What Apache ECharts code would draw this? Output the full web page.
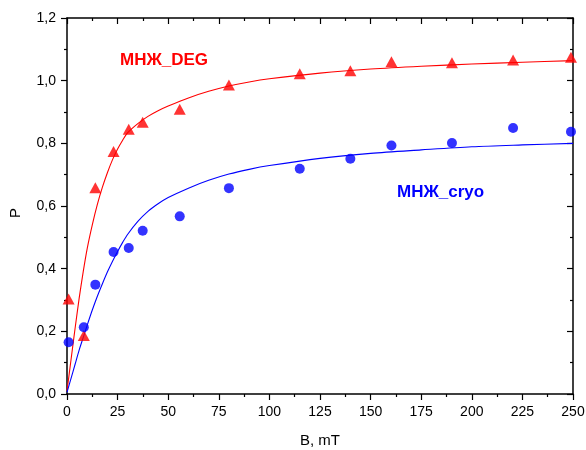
<!DOCTYPE html>
<html>
<head>
<meta charset="utf-8">
<script src="https://cdn.jsdelivr.net/npm/echarts@6/dist/echarts.min.js"></script>
<style>html,body{margin:0;padding:0;background:#fff}#c{width:586px;height:450px}</style>
</head>
<body>
<div id="c"></div>
<script>
// measured points
var bPoints = [0.8, 8.3, 14, 23, 30.5, 37.4, 55.7, 80, 115, 140, 160.3, 190.2, 220.4, 249];
var degValues = [0.303, 0.187, 0.658, 0.774, 0.845, 0.867, 0.909, 0.986, 1.022, 1.032, 1.06, 1.057, 1.066, 1.075];
var cryoValues = [0.165, 0.213, 0.349, 0.453, 0.466, 0.521, 0.567, 0.657, 0.719, 0.751, 0.793, 0.801, 0.849, 0.837];
// fitted curves
var fitB = [0, 2, 4, 6, 8, 10, 12.5, 15, 17.5, 20, 22.5, 25, 27.5, 30, 35, 40, 45, 50, 60, 70, 80, 90, 100, 125, 150, 175, 200, 225, 250];
var degFit = [0.01, 0.11, 0.21, 0.305, 0.39, 0.465, 0.54, 0.605, 0.66, 0.707, 0.748, 0.782, 0.81, 0.834, 0.863, 0.886, 0.904, 0.919, 0.945, 0.966, 0.983, 0.996, 1.006, 1.024, 1.037, 1.046, 1.053, 1.059, 1.064];
var cryoFit = [0.005, 0.05, 0.095, 0.14, 0.18, 0.22, 0.268, 0.312, 0.352, 0.39, 0.424, 0.455, 0.484, 0.51, 0.551, 0.583, 0.607, 0.627, 0.657, 0.682, 0.702, 0.717, 0.729, 0.752, 0.768, 0.779, 0.789, 0.795, 0.8];
var xTicks = [0, 25, 50, 75, 100, 125, 150, 175, 200, 225, 250];
var yTicks = ['0,0', '0,2', '0,4', '0,6', '0,8', '1,0', '1,2'];

function zip(a, b) { return a.map(function (v, i) { return [v, b[i]]; }); }

var chart = echarts.init(document.getElementById('c'));
var font = 'Liberation Sans, Arial, sans-serif';
var axisLine = { show: true, onZero: false, lineStyle: { color: '#000', width: 1.5 } };
chart.setOption({
  animation: false,
  grid: { left: 67, right: 13, top: 18, bottom: 56, containLabel: false, outerBoundsMode: 'none' },
  xAxis: [{
    type: 'value', min: 0, max: 250, interval: 25, position: 'bottom',
    name: 'B, mT', nameLocation: 'middle', nameGap: 39,
    nameTextStyle: { fontFamily: font, fontSize: 15, color: '#000' },
    axisLine: axisLine,
    axisTick: { show: true, inside: false, length: 6, lineStyle: { color: '#000', width: 1.2 } },
    minorTick: { show: true, splitNumber: 2, length: 3, lineStyle: { color: '#000', width: 1.2 } },
    axisLabel: { fontFamily: font, fontSize: 14, color: '#000', margin: 11 },
    splitLine: { show: false }
  }, {
    type: 'value', min: 0, max: 250, interval: 25, position: 'top',
    axisLine: axisLine,
    axisTick: { show: true, inside: true, length: 6, lineStyle: { color: '#000', width: 1.2 } },
    minorTick: { show: true, splitNumber: 2, length: 3, lineStyle: { color: '#000', width: 1.2 } },
    axisLabel: { show: false }, splitLine: { show: false }
  }],
  yAxis: [{
    type: 'value', min: 0, max: 1.2, interval: 0.2, position: 'left',
    name: 'P', nameLocation: 'middle', nameGap: 44,
    nameTextStyle: { fontFamily: font, fontSize: 15, color: '#000', padding: [0, 0, 0, -14] },
    axisLine: axisLine,
    axisTick: { show: true, inside: false, length: 6, lineStyle: { color: '#000', width: 1.2 } },
    minorTick: { show: true, splitNumber: 2, length: 3, lineStyle: { color: '#000', width: 1.2 } },
    axisLabel: { fontFamily: font, fontSize: 14, color: '#000', margin: 11,
      formatter: function (v) { return yTicks[Math.round(v / 0.2)]; } },
    splitLine: { show: false }
  }, {
    type: 'value', min: 0, max: 1.2, interval: 0.2, position: 'right',
    axisLine: axisLine,
    axisTick: { show: true, inside: true, length: 6, lineStyle: { color: '#000', width: 1.2 } },
    minorTick: { show: true, splitNumber: 2, length: 3, lineStyle: { color: '#000', width: 1.2 } },
    axisLabel: { show: false }, splitLine: { show: false }
  }],
  series: [
    { type: 'line', data: zip(fitB, degFit), smooth: 0.3, showSymbol: false,
      lineStyle: { color: '#ff0000', width: 1.1 }, z: 2 },
    { type: 'line', data: zip(fitB, cryoFit), smooth: 0.3, showSymbol: false,
      lineStyle: { color: '#0000ff', width: 1.1 }, z: 2 },
    { type: 'scatter', data: zip(bPoints, degValues), symbol: 'triangle', symbolSize: [12, 11],
      itemStyle: { color: '#ff0000' }, z: 3 },
    { type: 'scatter', data: zip(bPoints, cryoValues), symbol: 'circle', symbolSize: 10,
      itemStyle: { color: '#0000ff' }, z: 3 }
  ],
  graphic: [
    { type: 'text', left: 120, top: 52, style: { text: 'МНЖ_DEG', fill: '#ff0000',
      font: 'bold 17px ' + font } },
    { type: 'text', left: 397, top: 184, style: { text: 'МНЖ_cryo', fill: '#0000ff',
      font: 'bold 17px ' + font } }
  ]
});
</script>
</body>
</html>
